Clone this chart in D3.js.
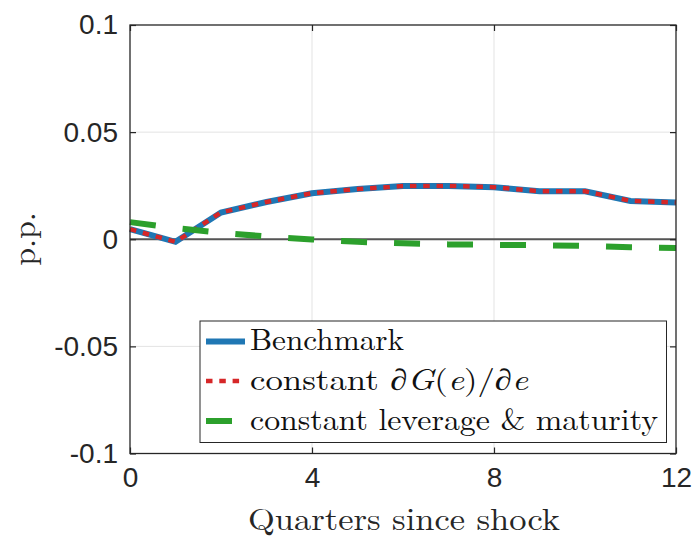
<!DOCTYPE html>
<html><head><meta charset="utf-8">
<script src="https://cdn.jsdelivr.net/npm/d3@7"></script>
<style>body{margin:0;background:#fff}svg{display:block}</style>
</head><body>
<svg id="chart" width="697" height="538"></svg>
<script>
const quarters = [0,1,2,3,4,5,6,7,8,9,10,11,12];
const benchmark = [0.0047,-0.0012,0.0125,0.0174,0.0215,0.0234,0.0248,0.0249,0.0243,0.0224,0.0224,0.0179,0.0171];
const constDG = [0.0047,-0.0012,0.0125,0.0174,0.0215,0.0234,0.0248,0.0249,0.0243,0.0224,0.0224,0.0179,0.0171];
const constLevMat = [0.0080,0.0052,0.0030,0.0013,-0.0001,-0.0012,-0.0019,-0.0024,-0.0026,-0.0028,-0.0031,-0.0037,-0.0041];
const xTicks = [0,4,8,12];
const yTicks = [-0.1,-0.05,0,0.05,0.1];
const yTickLabels = ["-0.1","-0.05","0","0.05","0.1"];

const svg = d3.select("#chart");
const L=130, R=676, T=25, B=453.5;
const x = d3.scaleLinear().domain([0,12]).range([L,R]);
const y = d3.scaleLinear().domain([-0.1,0.1]).range([B,T]);

// grid
const g = svg.append("g");
g.selectAll(".gx").data(xTicks.slice(1,-1)).enter().append("line")
 .attr("x1",d=>x(d)).attr("x2",d=>x(d)).attr("y1",T).attr("y2",B)
 .attr("stroke","#e3e3e3").attr("stroke-width",1);
g.selectAll(".gy").data(yTicks.slice(1,-1)).enter().append("line")
 .attr("y1",d=>y(d)).attr("y2",d=>y(d)).attr("x1",L).attr("x2",R)
 .attr("stroke","#e3e3e3").attr("stroke-width",1);

// zero line
svg.append("line").attr("x1",L).attr("x2",R).attr("y1",y(0)).attr("y2",y(0))
 .attr("stroke","#555").attr("stroke-width",1.8);

const line = d3.line().x((d,i)=>x(quarters[i])).y(d=>y(d));
svg.append("path").attr("d",line(benchmark)).attr("fill","none")
 .attr("stroke","#1f77b4").attr("stroke-width",6);
svg.append("path").attr("d",line(constDG)).attr("fill","none")
 .attr("stroke","#d62728").attr("stroke-width",4.5).attr("stroke-dasharray","6.5,6.8");
svg.append("path").attr("d",line(constLevMat)).attr("fill","none")
 .attr("stroke","#2ca02c").attr("stroke-width",6).attr("stroke-dasharray","26,27");

// axes box
svg.append("rect").attr("x",L).attr("y",T).attr("width",R-L).attr("height",B-T)
 .attr("fill","none").attr("stroke","#262626").attr("stroke-width",1.3);

// axes with inner ticks
const xAxB = d3.axisBottom(x).tickValues(xTicks).tickSize(-6).tickPadding(14).tickFormat(d3.format("d"));
const xAxT = d3.axisTop(x).tickValues(xTicks).tickSize(-6).tickFormat("");
const yAxL = d3.axisLeft(y).tickValues(yTicks).tickSize(-6).tickPadding(12).tickFormat((d,i)=>yTickLabels[i]);
const yAxR = d3.axisRight(y).tickValues(yTicks).tickSize(-6).tickFormat("");
function styleAx(sel){
  sel.select(".domain").remove();
  sel.selectAll("line").attr("stroke","#262626").attr("stroke-width",1.2);
  sel.selectAll("text").attr("fill","#262626").style("font-family","'Liberation Sans',Arial,sans-serif").style("font-size","28px");
}
svg.append("g").attr("transform",`translate(0,${B})`).call(xAxB).call(styleAx);
svg.append("g").attr("transform",`translate(0,${T})`).call(xAxT).call(styleAx);
svg.append("g").attr("transform",`translate(${L},0)`).call(yAxL).call(styleAx);
svg.append("g").attr("transform",`translate(${R},0)`).call(yAxR).call(styleAx);

// axis labels
const serif = "'Latin Modern Roman','CMU Serif','Liberation Serif','DejaVu Serif',serif";
svg.append("text").attr("x",404).attr("y",530).attr("text-anchor","middle")
 .style("font-family",serif).style("font-size","31px").attr("fill","#262626")
 .attr("textLength",312).attr("lengthAdjust","spacingAndGlyphs").text("Quarters since shock");
svg.append("text").attr("transform","translate(35,239) rotate(-90)").attr("text-anchor","middle")
 .style("font-family",serif).style("font-size","32px").attr("fill","#262626")
 .text("p.p.");

// legend
const leg = svg.append("g");
leg.append("rect").attr("x",200).attr("y",321).attr("width",466.5).attr("height",121.5)
 .attr("fill","#fff").attr("stroke","#262626").attr("stroke-width",1);
const legItems = [
 {name:"Benchmark", color:"#1f77b4", w:6, dash:null, len:39},
 {name:"constDG", color:"#d62728", w:4.5, dash:"6.5,6.8", len:34},
 {name:"constLevMat", color:"#2ca02c", w:6, dash:"26,27", len:39}
];
const rowY = [341.5, 381, 421];
legItems.forEach((it,i)=>{
  leg.append("line").attr("x1",206).attr("x2",206+it.len).attr("y1",rowY[i]).attr("y2",rowY[i])
   .attr("stroke",it.color).attr("stroke-width",it.w).attr("stroke-dasharray",it.dash);
});
const t0 = leg.append("text").attr("x",250).attr("y",350).style("font-family",serif).style("font-size","30px").attr("fill","#111")
  .attr("textLength",154).attr("lengthAdjust","spacingAndGlyphs").text("Benchmark");
const t1 = leg.append("text").attr("x",250).attr("y",389.5).style("font-family",serif).style("font-size","30px").attr("fill","#111")
  .attr("textLength",278).attr("lengthAdjust","spacingAndGlyphs");
t1.append("tspan").text("constant ");
t1.append("tspan").style("font-style","italic").text("∂G");
t1.append("tspan").text("(");
t1.append("tspan").style("font-style","italic").text("e");
t1.append("tspan").text(")/");
t1.append("tspan").style("font-style","italic").text("∂e");
const t2 = leg.append("text").attr("x",250).attr("y",429.5).style("font-family",serif).style("font-size","30px").attr("fill","#111")
  .attr("textLength",408).attr("lengthAdjust","spacingAndGlyphs").text("constant leverage & maturity");
</script>
</body></html>
